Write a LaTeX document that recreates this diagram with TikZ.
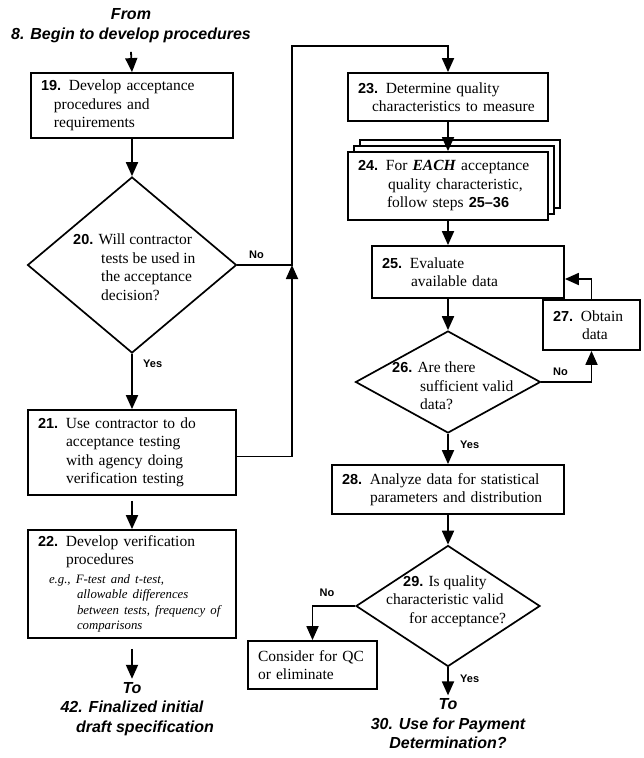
\documentclass[tikz,border=0pt]{standalone}
\usepackage{fontspec}
\setmainfont{Liberation Serif}
\setsansfont{Liberation Sans}
\usetikzlibrary{shapes.geometric,arrows.meta,shadows}

\newcommand{\stepno}[1]{{\sffamily\bfseries\fontsize{14.5}{18.5}\selectfont #1}}

\tikzset{
  box/.style={draw, fill=white, line width=1.8pt, align=left, inner xsep=10pt, inner ysep=0pt,
    font=\fontsize{15.5}{18.5}\selectfont},
  decision/.style={draw, diamond, line width=1.7pt, inner sep=0pt},
  dtext/.style={align=left, inner sep=0pt, font=\fontsize{15.5}{18.5}\selectfont},
  flow/.style={line width=1.8pt, -{Triangle[width=12pt,length=14pt]}},
  answer/.style={font=\sffamily\bfseries\fontsize{11}{13}\selectfont},
  goto/.style={align=center, font=\sffamily\bfseries\itshape\fontsize{16}{19.5}\selectfont},
}

\begin{document}
\begin{tikzpicture}[x=1pt,y=-1pt]
  \useasboundingbox (0,0) rectangle (643,758);

  % Left column
  \node[goto] (from8) at (131,25.5) {From\\8. Begin to develop procedures};
  \node[box, minimum width=202pt, minimum height=65pt, text width=182pt] (b19) at (132,105.5)
    {\stepno{19.} Develop acceptance\\\hspace*{13pt}procedures and\\\hspace*{13pt}requirements};
  \node[decision, minimum width=209pt, minimum height=176pt] (d20) at (132,265) {};
  \node[dtext, anchor=west] (t20) at (73,267)
    {\stepno{20.} Will contractor\\\hspace*{28pt}tests be used in\\\hspace*{28pt}the acceptance\\\hspace*{28pt}decision?};
  \node[box, minimum width=208pt, minimum height=85pt, text width=188pt] (b21) at (132,452.5)
    {\stepno{21.} Use contractor to do\\\hspace*{28pt}acceptance testing\\\hspace*{28pt}with agency doing\\\hspace*{28pt}verification testing};
  \node[box, minimum width=208pt, minimum height=108pt, text width=188pt] (b22) at (132,584)
    {\stepno{22.} Develop verification\\\hspace*{28pt}procedures\\
     {\fontsize{12.8}{18.5}\selectfont\itshape
      \hspace*{11pt}e.g., F-test and t-test,\\[-3pt]
      \hspace*{39pt}allowable differences\\[-3pt]
      \hspace*{39pt}between tests, frequency of\\[-3pt]
      \hspace*{39pt}comparisons}};
  \node[goto] (to42) at (132,709) {To\\42. Finalized initial\\\hspace*{26pt}draft specification};

  % Right column
  \node[box, minimum width=200pt, minimum height=48pt, text width=180pt] (b23) at (448,97)
    {\stepno{23.} Determine quality\\\hspace*{14pt}characteristics to measure};
  \node[box, minimum width=200pt, minimum height=68pt, text width=180pt,
        copy shadow={shadow xshift=12pt, shadow yshift=12pt},
        copy shadow={shadow xshift=6pt, shadow yshift=6pt}] (b24) at (448,186)
    {\stepno{24.} For \textbf{\textit{EACH}} acceptance\\\hspace*{30pt}quality characteristic,\\\hspace*{29pt}follow steps \stepno{25--36}};
  \node[box, minimum width=192pt, minimum height=52pt, text width=172pt] (b25) at (468,272)
    {\stepno{25.} Evaluate\\\hspace*{29pt}available data};
  \node[decision, minimum width=185pt, minimum height=102pt] (d26) at (448,382) {};
  \node[dtext, anchor=west] (t26) at (392,386)
    {\stepno{26.} Are there\\\hspace*{28pt}sufficient valid\\\hspace*{28pt}data?};
  \node[box, minimum width=97pt, minimum height=50pt, text width=77pt] (b27) at (591.5,325)
    {\stepno{27.} Obtain\\\hspace*{29pt}data};
  \node[box, minimum width=232pt, minimum height=49pt, text width=212pt] (b28) at (448,489.5)
    {\stepno{28.} Analyze data for statistical\\\hspace*{28pt}parameters and distribution};
  \node[decision, minimum width=184pt, minimum height=121pt] (d29) at (448,606) {};
  \node[dtext, anchor=west] (t29) at (386,601)
    {\hspace*{17pt}\stepno{29.} Is quality\\characteristic valid\\\hspace*{23pt}for acceptance?};
  \node[box, minimum width=129pt, minimum height=48pt, text width=109pt] (bqc) at (312.5,665)
    {Consider for QC\\or eliminate};
  \node[goto] (to30) at (448,724) {To\\30. Use for Payment\\Determination?};

  % Connectors, left
  \coordinate (jn) at (292,265);
  \draw[flow] ([yshift=-6pt]from8.south) -- (b19.north);
  \draw[flow] (b19.south) -- (d20.north);
  \draw[flow] (d20.east) -- node[answer, above=2pt, pos=0.35] {No} (jn)
    |- ([yshift=26pt]b23.north) -- (b23.north);
  \draw[flow] (d20.south) -- node[answer, right=7pt, pos=0.18] {Yes} (b21.north);
  \draw[flow] ([yshift=-4pt]b21.east) -| (jn);
  \draw[flow] ([yshift=-5pt]b21.south) -- (b22.north);
  \draw[flow] ([yshift=-10pt]b22.south) -- (to42.north);

  % Connectors, right
  \draw[flow] (b23.south) -- (b24.north);
  \draw[flow] (b24.south) -- (b24.south |- b25.north);
  \draw[flow] (b25.south -| d26.north) -- (d26.north);
  \draw[flow] (d26.east) -| node[answer, above=2pt, pos=0.19] {No} (b27.south);
  \draw[flow] (b27.north) |- ([yshift=-7pt]b25.east);
  \draw[flow] (d26.south) -- node[answer, right=8pt, pos=0.35] {Yes} (b28.north);
  \draw[flow] (b28.south) -- (d29.north);
  \draw[flow] (d29.west) -| node[answer, above=5pt, pos=0.33] {No} (bqc.north);
  \draw[flow] (d29.south) -- node[answer, right=8pt, pos=0.4] {Yes} (to30.north);
\end{tikzpicture}
\end{document}
